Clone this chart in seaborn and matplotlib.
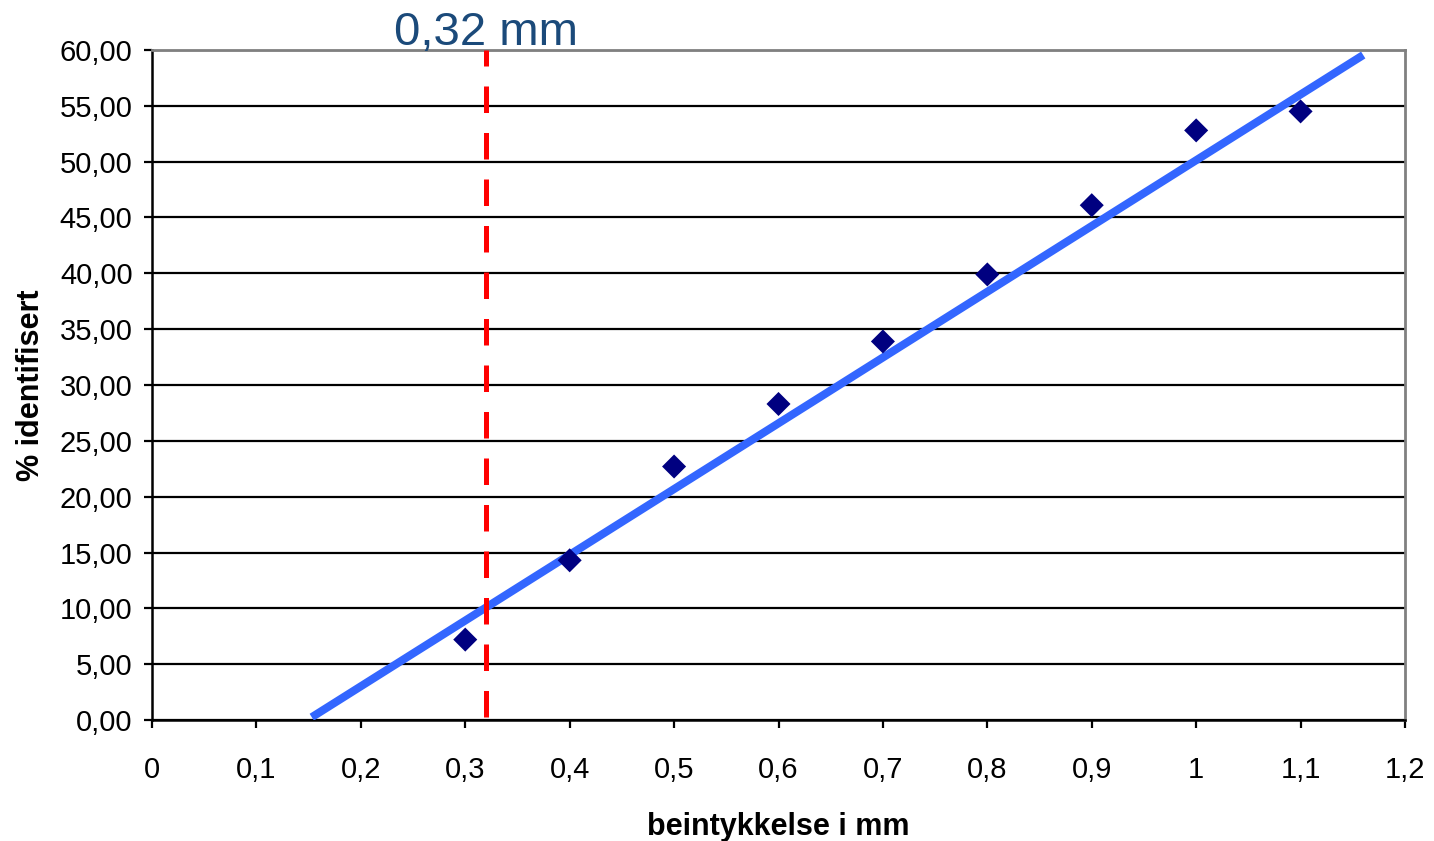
import matplotlib
matplotlib.use("Agg")
import matplotlib.pyplot as plt
import seaborn as sns
import pandas as pd
from matplotlib.ticker import FuncFormatter, MultipleLocator

# ---- data ----
thickness_mm = [0.3, 0.4, 0.5, 0.6, 0.7, 0.8, 0.9, 1.0, 1.1]
pct_identified = [7.2, 14.3, 22.7, 28.3, 33.9, 39.9, 46.1, 52.8, 54.5]
trend_x = [0.153, 1.16]
trend_y = [0.25, 59.55]
threshold_mm = 0.32
threshold_label = "0,32 mm"
x_label = "beintykkelse i mm"
y_label = "% identifisert"

sns.set_theme(style="white")
plt.rcParams["font.family"] = ["Liberation Sans", "DejaVu Sans"]

fig = plt.figure(figsize=(14.34, 8.41), dpi=100)
ax = fig.add_axes([152 / 1434, 1 - 720 / 841, (1405 - 152) / 1434, (720 - 50) / 841])

df = pd.DataFrame({"x": thickness_mm, "y": pct_identified})
tdf = pd.DataFrame({"x": trend_x, "y": trend_y})

ax.set_xlim(0, 1.2)
ax.set_ylim(0, 60)

# grid
ax.yaxis.set_major_locator(MultipleLocator(5))
ax.xaxis.set_major_locator(MultipleLocator(0.1))
ax.grid(axis="y", color="black", linewidth=1.6, zorder=0)
ax.grid(axis="x", visible=False)
ax.set_axisbelow(True)

sns.lineplot(data=tdf, x="x", y="y", ax=ax, color="#3366FF", linewidth=5.8,
             estimator=None, solid_capstyle="butt", zorder=3)
ax.axvline(threshold_mm, ymin=0.005, ymax=1.0, color="#FF0000", linewidth=3.6,
           linestyle=(0, (5.3, 4.0)), dash_capstyle="butt", zorder=4)
sns.scatterplot(data=df, x="x", y="y", ax=ax, marker="D", s=150, color="#000080",
                edgecolor="none", linewidth=0, zorder=5)

ax.annotate(threshold_label, xy=(threshold_mm, 60), xytext=(0, 3.5),
            textcoords="offset points", ha="center", va="baseline",
            fontsize=34, color="#1B4A7A", annotation_clip=False)

def fmt_x(v, pos):
    s = f"{v:.1f}"
    if s.endswith(".0"):
        s = s[:-2]
    return s.replace(".", ",")

ax.xaxis.set_major_formatter(FuncFormatter(fmt_x))
ax.yaxis.set_major_formatter(FuncFormatter(lambda v, p: f"{v:.2f}".replace(".", ",")))

ax.tick_params(axis="both", which="major", direction="out", length=6, width=1.6,
               color="black", labelsize=21, labelcolor="black",
               bottom=True, left=True)
ax.tick_params(axis="x", pad=20)
ax.tick_params(axis="y", pad=8)

for side in ["left", "bottom"]:
    ax.spines[side].set_color("black")
    ax.spines[side].set_linewidth(1.8)
for side in ["top", "right"]:
    ax.spines[side].set_color("#808080")
    ax.spines[side].set_linewidth(2.0)

ax.set_xlabel(x_label, fontsize=22, fontweight="bold", labelpad=20, color="black")
ax.set_ylabel(y_label, fontsize=22, fontweight="bold", labelpad=10, color="black")

fig.savefig("out.png", dpi=100, facecolor="white")
